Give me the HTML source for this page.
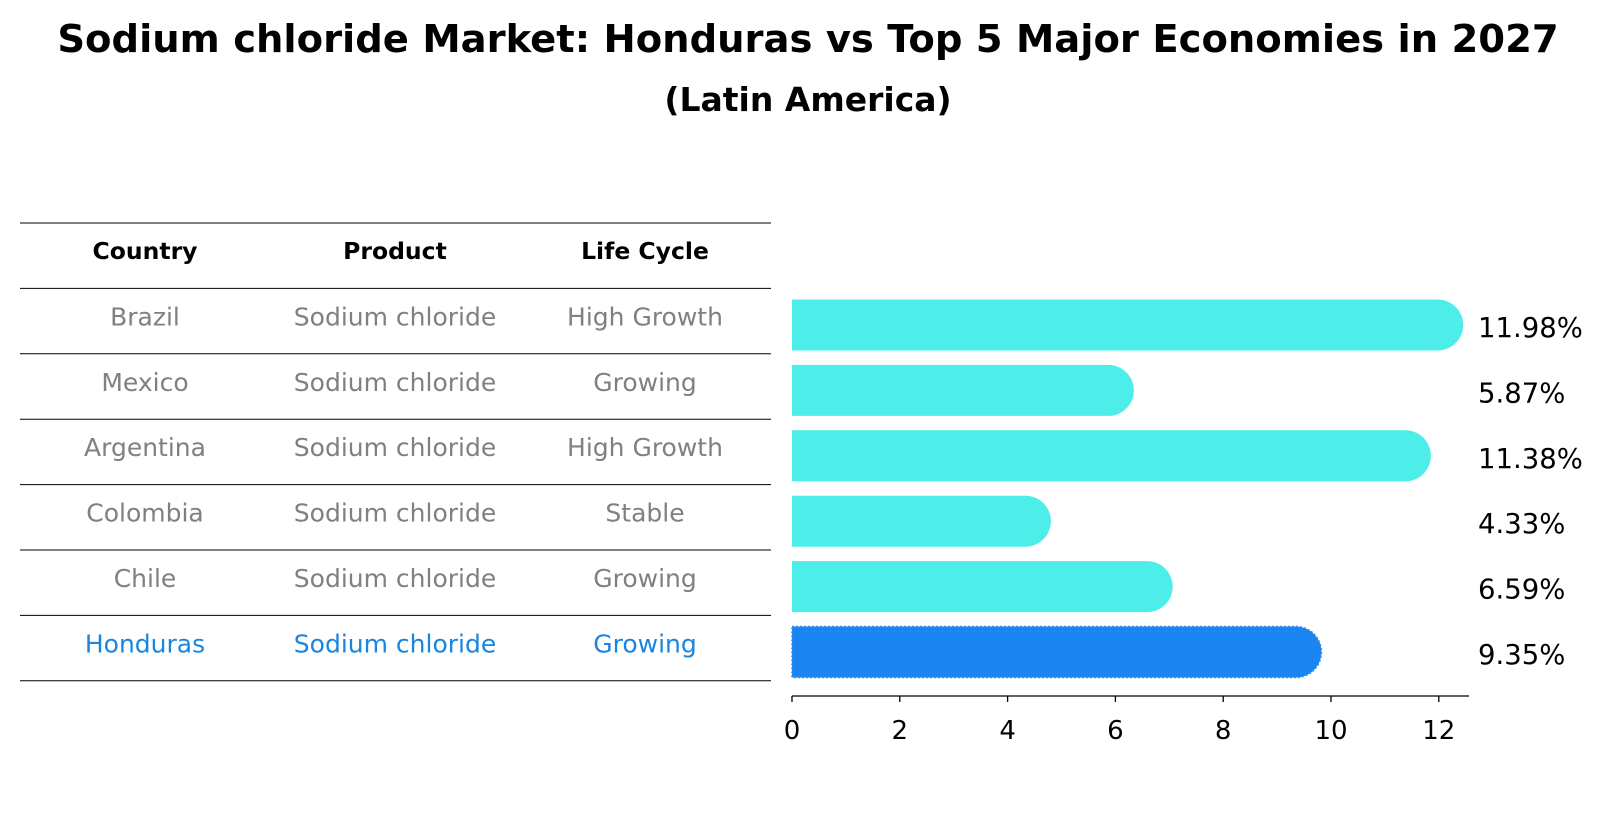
<!DOCTYPE html>
<html><head><meta charset="utf-8"><style>
body{margin:0;background:#fff;font-family:"DejaVu Sans","Liberation Sans",sans-serif;}
svg text{font-family:"DejaVu Sans","Liberation Sans",sans-serif;}
</style></head><body>
<svg id="c" width="1604" height="823" xmlns="http://www.w3.org/2000/svg">
<text x="808" y="52" text-anchor="middle" font-size="38.5" font-weight="bold">Sodium chloride Market: Honduras vs Top 5 Major Economies in 2027</text>
<text x="808" y="111" text-anchor="middle" font-size="33" font-weight="bold">(Latin America)</text>
<g id="tbl"></g>
<g id="bars"></g>
</svg>
<script>
const countries=["Brazil","Mexico","Argentina","Colombia","Chile","Honduras"];
const products=["Sodium chloride","Sodium chloride","Sodium chloride","Sodium chloride","Sodium chloride","Sodium chloride"];
const lifeCycles=["High Growth","Growing","High Growth","Stable","Growing","Growing"];
const values=[11.98,5.87,11.38,4.33,6.59,9.35];
const ticks=[0,2,4,6,8,10,12];
const NS="http://www.w3.org/2000/svg";
function mk(t,a,p){const e=document.createElementNS(NS,t);for(const k in a)e.setAttribute(k,a[k]);p.appendChild(e);return e;}
const tbl=document.getElementById('tbl'),bars=document.getElementById('bars');
const colX=[145,395,645];
const rowY=i=>223+65.4*i;
for(let i=0;i<=7;i++){const l=mk('line',{x1:20,x2:771,y1:rowY(i),y2:rowY(i),stroke:'#000','stroke-width':1},tbl);

}
["Country","Product","Life Cycle"].forEach((h,j)=>{const t=mk('text',{x:colX[j],y:rowY(0)+36,'text-anchor':'middle','font-size':23.5,'font-weight':'bold'},tbl);t.textContent=h;

});
countries.forEach((c,i)=>{const col=c==="Honduras"?'#1a85e0':'#808080';
[c,products[i],lifeCycles[i]].forEach((v,j)=>{const t=mk('text',{x:colX[j],y:rowY(i+1)+37,'text-anchor':'middle','font-size':25,fill:col},tbl);t.textContent=v;

});});
const x0=792,ppu=53.9,axY=696;
const xs=v=>x0+v*ppu;
const yc=i=>325+65.4*i, h=51;
values.forEach((v,i)=>{const hon=countries[i]==="Honduras";const r=h/2;const xe=xs(v);
const d=`M${x0},${yc(i)-r} H${xe} A${r},${r} 0 0 1 ${xe},${yc(i)+r} H${x0} Z`;
const p=mk('path',{d:d,fill:hon?'#1a85f0':'#4deee9',stroke:hon?'#3a8fe8':'none','stroke-width':hon?1.5:0,'stroke-dasharray':hon?'2,2':'none'},bars);


const t=mk('text',{x:1478,y:yc(i)+12,'font-size':27.5},bars);t.textContent=v.toFixed(2)+'%';

});
const ax=mk('line',{x1:x0,x2:1469,y1:axY,y2:axY,stroke:'#000','stroke-width':1.3},bars);


ticks.forEach(v=>{const l=mk('line',{x1:xs(v),x2:xs(v),y1:axY,y2:axY+6,stroke:'#000','stroke-width':1.3},bars);


const t=mk('text',{x:xs(v),y:axY+43,'text-anchor':'middle','font-size':26},bars);t.textContent=v;

});
</script>
</body></html>
